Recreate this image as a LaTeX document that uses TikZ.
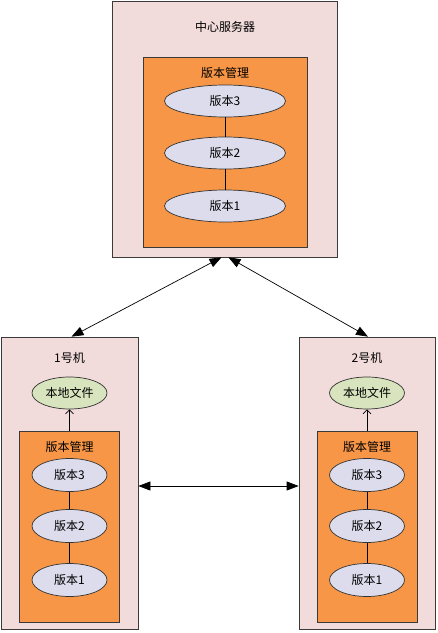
\documentclass[tikz,border=0pt]{standalone}
\usepackage{fontspec}
\setmainfont{Noto Sans CJK SC}
\usetikzlibrary{arrows.meta,shapes.geometric}
\definecolor{ink}{HTML}{3A3A3A}
\definecolor{shell}{HTML}{F2DCDB}
\definecolor{vcs}{HTML}{F79646}
\definecolor{lilac}{HTML}{DCDCEC}
\definecolor{sage}{HTML}{D7E4BD}

\begin{document}
\begin{tikzpicture}[x=1pt,y=-1pt,>={Triangle[length=12pt,width=9pt]},line width=0.7pt,
  every node/.style={font=\fontsize{12}{14}\selectfont,inner sep=0pt},
  panel/.style={draw=ink,fill=shell,rectangle},
  store/.style={draw=ink,fill=vcs,rectangle},
  ver/.style={draw=black!80,fill=lilac,ellipse},
  local/.style={draw=black!80,fill=sage,ellipse,minimum width=75pt,minimum height=32pt}]
  \useasboundingbox (0,0) rectangle (438,633);
  % server
  \node[panel,minimum width=225pt,minimum height=256pt] (server) at (224.5,129) {};
  \node (srvtitle) at (225,27) {中心服务器};
  \node[store,minimum width=164pt,minimum height=190pt] (srvstore) at (225,152) {};
  \node (srvlabel) at (225,73) {版本管理};
  \node[ver,minimum width=121pt,minimum height=32pt] (s3) at (225,101) {版本3};
  \node[ver,minimum width=121pt,minimum height=32pt] (s2) at (225,153) {版本2};
  \node[ver,minimum width=121pt,minimum height=32pt] (s1) at (225,206) {版本1};
  \draw (s3) -- (s2); \draw (s2) -- (s1);
  % machines
  \foreach \m/\x/\w in {1/69.5/137,2/367/136}{
    \node[panel,minimum width=\w pt,minimum height=292pt] (m\m) at (\x,483) {};
    \node (m\m title) at (\x,358) {\m 号机};
    \node[local] (m\m file) at (\x,393) {本地文件};
    \node[store,minimum width=100pt,minimum height=191pt] (m\m store) at (\x,526.5) {};
    \node (m\m label) at (\x,447) {版本管理};
    \node[ver,minimum width=75pt,minimum height=33pt] (m\m v3) at (\x,475) {版本3};
    \node[ver,minimum width=75pt,minimum height=33pt] (m\m v2) at (\x,526) {版本2};
    \node[ver,minimum width=75pt,minimum height=33pt] (m\m v1) at (\x,580) {版本1};
    \draw (m\m v3) -- (m\m v2); \draw (m\m v2) -- (m\m v1);
    \draw[-{Straight Barb[length=4pt,width=8pt]}] (m\m store) -- (m\m file);
  }
  \draw[<->] ([xshift=2pt]m1.north) -- ([xshift=-3pt]server.south);
  \draw[<->] ([xshift=4pt]server.south) -- ([xshift=1pt]m2.north);
  \draw[<->] ([yshift=-3pt]m1.east) -- ([yshift=-3pt]m2.west);
\end{tikzpicture}
\end{document}
